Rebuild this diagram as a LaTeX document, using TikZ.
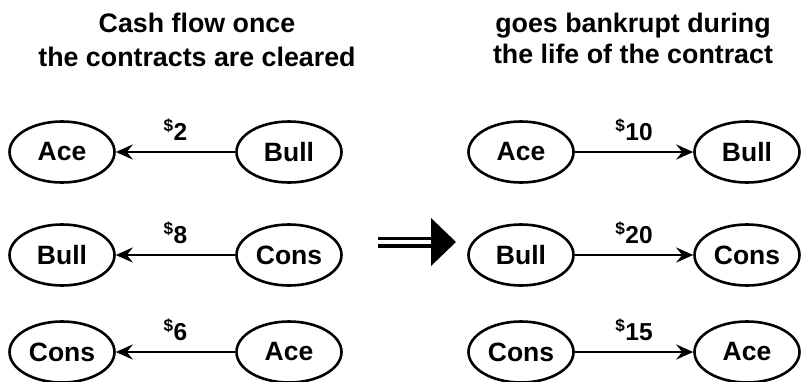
\documentclass[tikz,border=0pt]{standalone}
\usepackage{fontspec}
\setmainfont{Liberation Sans}
\usetikzlibrary{arrows.meta,shapes.geometric}
\begin{document}
\begin{tikzpicture}[x=1pt,y=-1pt,
  party/.style={draw,ellipse,line width=2.6pt,minimum width=105pt,minimum height=61pt,inner sep=0pt,font=\fontsize{26.5}{30}\selectfont\bfseries},
  flow/.style={draw,line width=2.6pt,-{Stealth[length=17pt,width=15pt,inset=6pt]}},
  amount/.style={anchor=base,inner sep=0pt,font=\fontsize{24.5}{28}\selectfont\bfseries},
  title/.style={anchor=base,inner sep=0pt,font=\fontsize{26.8}{30}\selectfont\bfseries}]
\useasboundingbox (0,0) rectangle (801,381);
% titles
\node[title] (t1) at (197,32) {Cash flow once};
\node[title] (t2) at (197,66) {the contracts are cleared};
\node[title] (t3) at (633,32) {goes bankrupt during};
\node[title] (t4) at (633,63) {the life of the contract};
% left column
\node[party] (la1) at (62,152) {Ace};
\node[party] (lb1) at (289,152) {Bull};
\node[party] (la2) at (62,255) {Bull};
\node[party] (lb2) at (289,255) {Cons};
\node[party] (la3) at (62,352) {Cons};
\node[party] (lb3) at (289,352) {Ace};
\draw[flow] (lb1) -- (la1) node[amount,midway,above=10pt] (m1) {\textsuperscript{\$}2};
\draw[flow] (lb2) -- (la2) node[amount,midway,above=10pt] (m2) {\textsuperscript{\$}8};
\draw[flow] (lb3) -- (la3) node[amount,midway,above=10pt] (m3) {\textsuperscript{\$}6};
% right column
\node[party] (ra1) at (521,152) {Ace};
\node[party] (rb1) at (747,152) {Bull};
\node[party] (ra2) at (521,255) {Bull};
\node[party] (rb2) at (747,255) {Cons};
\node[party] (ra3) at (521,352) {Cons};
\node[party] (rb3) at (747,352) {Ace};
\draw[flow] (ra1) -- (rb1) node[amount,midway,above=10pt] (n1) {\textsuperscript{\$}10};
\draw[flow] (ra2) -- (rb2) node[amount,midway,above=10pt] (n2) {\textsuperscript{\$}20};
\draw[flow] (ra3) -- (rb3) node[amount,midway,above=10pt] (n3) {\textsuperscript{\$}15};
% big implication arrow
\draw[line width=3.8pt] (378,238.5) -- (433,238.5);
\draw[line width=3.8pt] (378,246) -- (433,246);
\fill (431,218) -- (456,242) -- (431,266) -- cycle;
\end{tikzpicture}
\end{document}
